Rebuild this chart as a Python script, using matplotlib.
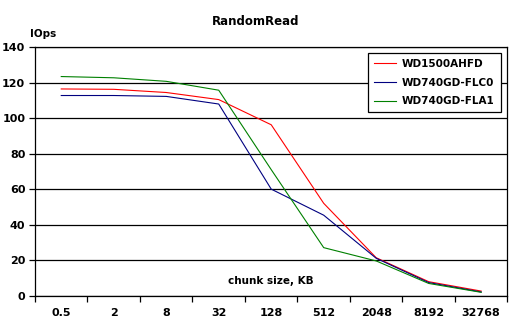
import matplotlib
matplotlib.use("Agg")
import matplotlib.pyplot as plt
import numpy as np

# chunk sizes (KB) and measured IOps
chunks = ["0.5", "2", "8", "32", "128", "512", "2048", "8192", "32768"]
wd1500ahfd = [116.5, 116.3, 114.5, 110.5, 96.3, 52.0, 21.3, 7.8, 2.5]
wd740gd_flc0 = [112.8, 112.8, 112.3, 108.0, 60.0, 45.3, 21.0, 7.3, 2.0]
wd740gd_fla1 = [123.5, 122.8, 120.8, 115.8, 71.0, 27.0, 19.5, 6.8, 1.8]

plt.rcParams['font.family'] = 'DejaVu Sans'
fig = plt.figure(figsize=(5.11, 3.23), dpi=100)
ax = fig.add_axes([0.0685, 0.0851, 0.9245, 0.7685])

x = np.arange(len(chunks))
ax.plot(x, wd1500ahfd, color='#ff0000', lw=0.8, label='WD1500AHFD')
ax.plot(x, wd740gd_flc0, color='#000080', lw=0.8, label='WD740GD-FLC0')
ax.plot(x, wd740gd_fla1, color='#008000', lw=0.8, label='WD740GD-FLA1')

ax.set_xlim(-0.5, len(chunks) - 0.5)
ax.set_ylim(0, 140)
ax.set_yticks(range(0, 141, 20))
ax.yaxis.grid(True, color='black', lw=0.9)
ax.set_axisbelow(True)

# labels centred on categories, tick marks on boundaries
ax.set_xticks(x)
ax.set_xticklabels(chunks, fontweight='bold', fontsize=8)
ax.tick_params(axis='x', which='major', length=0, pad=9)
ax.set_xticks(np.arange(-0.5, len(chunks)), minor=True)
ax.tick_params(axis='x', which='minor', length=4, width=0.9, direction='out')
ax.tick_params(axis='y', length=4, width=0.9, labelsize=8, pad=3)
for lab in ax.get_yticklabels():
    lab.set_fontweight('bold')

for sp in ax.spines.values():
    sp.set_linewidth(0.9)
    sp.set_color('black')

fig.text(0.5, 0.932, 'RandomRead', ha='center', va='center', fontsize=8.5, fontweight='bold')
fig.text(0.058, 0.895, 'IOps', ha='left', va='center', fontsize=7.5, fontweight='bold')
ax.text(0.5, 0.06, 'chunk size, KB', transform=ax.transAxes, ha='center', va='center',
        fontsize=7.5, fontweight='bold')

leg = ax.legend(loc='upper right', bbox_to_anchor=(0.9856, 0.977), fancybox=False,
                framealpha=1, edgecolor='black', prop={'weight': 'bold', 'size': 7.5},
                handlelength=2.1, handletextpad=0.6, borderpad=0.55, labelspacing=0.85,
                borderaxespad=0)
leg.get_frame().set_linewidth(0.9)

fig.savefig('out.png', dpi=100)
